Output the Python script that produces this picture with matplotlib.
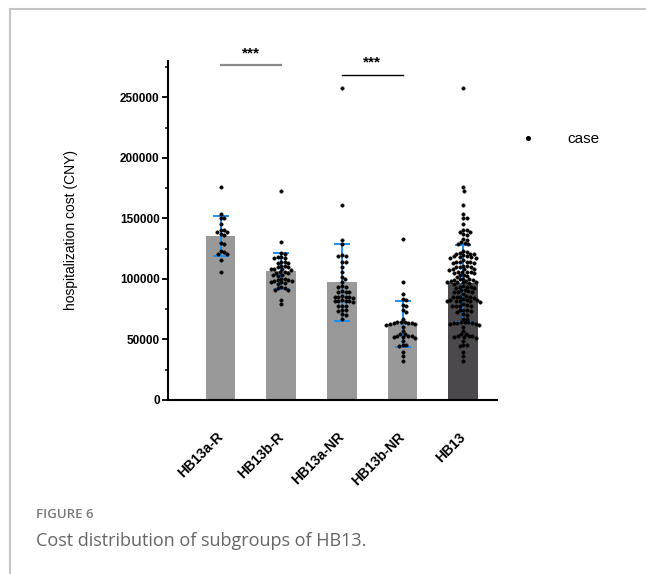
import matplotlib.pyplot as plt
import numpy as np
from matplotlib.lines import Line2D

plt.rcParams['font.family'] = ['Liberation Sans', 'DejaVu Sans']

groups = ["HB13a-R", "HB13b-R", "HB13a-NR", "HB13b-NR", "HB13"]

# hospitalization cost per case (CNY)
hb13a_r = [176000, 153700, 150600, 150200, 145000, 140500, 140100, 139100, 138700,
           136900, 136500, 129500, 128700, 122900, 122500, 120700, 120300, 115300, 105600]
hb13b_r = [173000, 130400, 121500, 121000, 118400, 118000, 117600, 117200, 114200,
           113800, 113500, 113000, 110800, 110400, 110000, 109500, 108600, 108200,
           107900, 107500, 105800, 105400, 105000, 104600, 103300, 102900, 102500,
           100300, 99900, 99500, 99000, 98400, 98000, 97600, 97200, 96500, 96000,
           93200, 92800, 92400, 91000, 90500, 83000, 79000]
hb13a_nr = [257700, 160900, 132000, 128700, 119600, 119200, 118800, 114200, 113600,
            109500, 105600, 101700, 99600, 97100, 93800, 93600, 93400, 89800, 89500,
            89200, 88900, 85600, 85400, 85200, 85000, 84800, 84600, 82200, 82000,
            81800, 81600, 81400, 81200, 77800, 77600, 77400, 74500, 74300, 73900,
            70700, 70400, 67300]
hb13b_nr = [132800, 97600, 87200, 83200, 82800, 78300, 77900, 74300, 72600, 67100,
            64500, 64300, 64100, 63900, 63700, 63500, 62600, 62400, 62200, 60500,
            56900, 54900, 54500, 53000, 52800, 52600, 52400, 51900, 51500, 48700,
            45300, 45100, 44900, 39800, 36300, 31900]
# HB13 column is all subgroup cases together
hb13_all = hb13a_r + hb13b_r + hb13a_nr + hb13b_nr

cases = [hb13a_r, hb13b_r, hb13a_nr, hb13b_nr, hb13_all]
sig_pairs = [(0, 1), (2, 3)]

W, H = 646, 574
fig = plt.figure(figsize=(W / 100, H / 100), dpi=100)
ax = fig.add_axes([168 / W, 1 - 400 / H, (497 - 168) / W, (400 - 61) / H])
ax.set_xlim(-0.865, 4.555)
ax.set_ylim(0, 280000)

x = np.arange(len(groups))
means = [np.mean(v) for v in cases]
sds = [np.std(v, ddof=1) for v in cases]
bar_colors = ["#999999"] * 4 + ["#4b494b"]

ax.bar(x, means, width=0.49, color=bar_colors, zorder=1)
ax.errorbar(x, means, yerr=sds, fmt='none', ecolor='#1f8ef1', elinewidth=1.4,
            capsize=6, capthick=1.4, zorder=3)


def swarm(ax, x0, values, dot_px=3.7):
    # beeswarm layout in screen pixels so the dots don't overlap
    vals = np.asarray(values, dtype=float)
    pts = ax.transData.transform(np.column_stack([np.full(len(vals), x0), vals]))
    ys = pts[:, 1]
    offs = np.zeros(len(ys))
    px, py = [], []
    for i in np.argsort(-ys):
        y = ys[i]
        cands = [0.0]
        for a, b in zip(px, py):
            dy = abs(b - y)
            if dy < dot_px:
                dx = np.sqrt(dot_px ** 2 - dy ** 2)
                cands += [a + dx, a - dx]
        cands.sort(key=abs)
        for c in cands:
            if all((c - a) ** 2 + (y - b) ** 2 >= dot_px ** 2 - 1e-6 for a, b in zip(px, py)):
                break
        offs[i] = c
        px.append(c)
        py.append(y)
    pts[:, 0] += offs
    return ax.transData.inverted().transform(pts)


for i, v in enumerate(cases):
    xy = swarm(ax, x[i], v)
    ax.plot(xy[:, 0], xy[:, 1], ls='', marker='o', ms=2.5, color='black',
            mec='black', mew=0.3, zorder=4, clip_on=False)

# significance brackets
for (a, b), yl, col, lw in zip(sig_pairs, [276400, 268400], ['#8a8a8a', 'black'], [1.6, 1.0]):
    ax.plot([x[a], x[b]], [yl, yl], color=col, lw=lw, clip_on=False, zorder=2)
    ax.annotate('***', xy=((x[a] + x[b]) / 2, yl), xytext=(0, 6),
                textcoords='offset points', ha='center', va='baseline',
                fontsize=11, fontweight='bold', annotation_clip=False)

for s in ['top', 'right']:
    ax.spines[s].set_visible(False)
for s in ['left', 'bottom']:
    ax.spines[s].set_linewidth(1.5)

ax.set_yticks(np.arange(0, 250001, 50000))
ax.set_yticks(np.arange(0, 275001, 25000), minor=True)
ax.tick_params(axis='y', which='major', length=4, width=1.3, pad=2, labelsize=8.5)
ax.tick_params(axis='y', which='minor', length=2.5, width=1.1)
for t in ax.get_yticklabels():
    t.set_fontweight('bold')

ax.set_xticks(x)
ax.set_xticklabels(groups, rotation=45, ha='right', va='center',
                   rotation_mode='anchor', fontsize=10, fontweight='bold')
ax.tick_params(axis='x', length=0, pad=25)

ax.set_ylabel('hospitalization cost (CNY)', fontsize=10, labelpad=30)

ax.legend(handles=[Line2D([], [], ls='', marker='o', ms=2.6, color='black')],
          labels=['case'], frameon=False, fontsize=11, handlelength=2.0,
          handletextpad=1.55, borderpad=0, borderaxespad=0, loc='center left',
          bbox_to_anchor=(512.7 / W, 1 - 139 / H), bbox_transform=fig.transFigure)

# page frame and caption
fig.add_artist(Line2D([9.5 / W, 1], [1 - 8.5 / H, 1 - 8.5 / H], color='#c4c4c4', lw=1.5))
fig.add_artist(Line2D([9.5 / W, 9.5 / W], [0, 1 - 8.5 / H], color='#c4c4c4', lw=1.5))
fig.text(36 / W, 1 - 514 / H, 'FIGURE 6', family=['Open Sans', 'DejaVu Sans'],
         fontsize=9.5, fontweight='semibold', color='#7a7a7a', va='center')
fig.text(36 / W, 1 - 541 / H, 'Cost distribution of subgroups of HB13.',
         family=['Open Sans', 'DejaVu Sans'], fontsize=13, color='#666666', va='center')

fig.savefig('out.png', dpi=100)
